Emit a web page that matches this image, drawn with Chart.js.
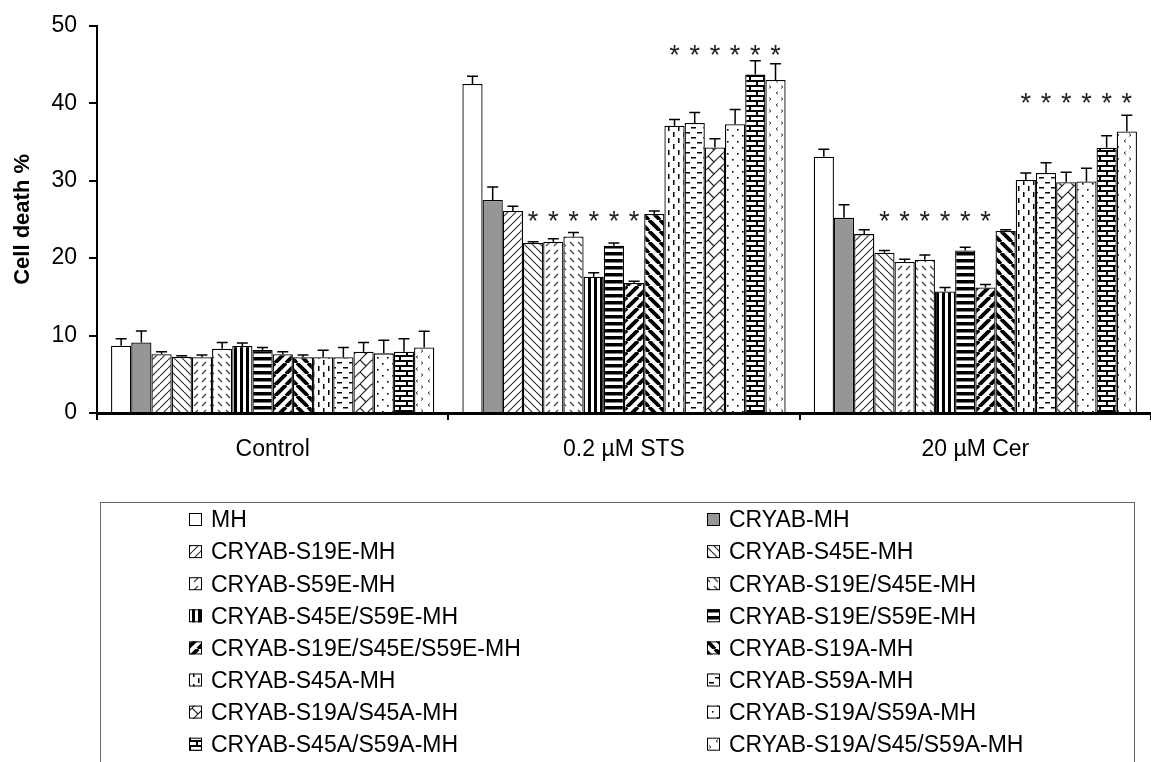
<!DOCTYPE html>
<html>
<head>
<meta charset="utf-8">
<script src="https://cdn.jsdelivr.net/npm/chart.js@4/dist/chart.umd.min.js"></script>
<style>
  body { margin: 0; background: #fff; }
  #wrap { width: 1151px; height: 762px; }
</style>
</head>
<body>
<div id="wrap"><canvas id="chart" width="1151" height="762"></canvas></div>
<script>
const fontFamily = "'Liberation Sans', Arial, sans-serif";

const categories = ['Control', '0.2 \u00b5M STS', '20 \u00b5M Cer'];

const seriesNames = [
  'MH', 'CRYAB-MH',
  'CRYAB-S19E-MH', 'CRYAB-S45E-MH',
  'CRYAB-S59E-MH', 'CRYAB-S19E/S45E-MH',
  'CRYAB-S45E/S59E-MH', 'CRYAB-S19E/S59E-MH',
  'CRYAB-S19E/S45E/S59E-MH', 'CRYAB-S19A-MH',
  'CRYAB-S45A-MH', 'CRYAB-S59A-MH',
  'CRYAB-S19A/S45A-MH', 'CRYAB-S19A/S59A-MH',
  'CRYAB-S45A/S59A-MH', 'CRYAB-S19A/S45/S59A-MH'
];

// mean cell death % per series, one array per treatment
const controlVals = [8.7, 9.1, 7.6, 7.25, 7.2, 8.3, 8.65, 8.15, 7.6, 7.2, 7.2, 7.2, 7.9, 7.7, 7.9, 8.45];
const stsVals     = [42.5, 27.5, 26.1, 21.95, 22.1, 22.8, 17.6, 21.6, 16.8, 25.7, 37.1, 37.45, 34.3, 37.3, 43.7, 43.0];
const cerVals     = [33.1, 25.2, 23.1, 20.7, 19.5, 19.8, 15.7, 21.0, 16.2, 23.5, 30.1, 31.0, 29.8, 29.9, 34.25, 36.35];

// upper error (SD)
const controlErr = [0.9, 1.5, 0.3, 0.15, 0.3, 0.8, 0.4, 0.3, 0.3, 0.3, 0.9, 1.25, 1.2, 1.7, 1.7, 2.1];
const stsErr     = [1.0, 1.7, 0.6, 0.15, 0.4, 0.5, 0.5, 0.35, 0.2, 0.4, 0.8, 1.35, 1.1, 1.9, 1.8, 2.1];
const cerErr     = [0.95, 1.7, 0.55, 0.3, 0.35, 0.6, 0.5, 0.4, 0.4, 0.15, 0.9, 1.3, 1.3, 1.7, 1.55, 2.1];

const yTicks = [0, 10, 20, 30, 40, 50];

// significance marks: category index, series indices, height (data units)
const starGroups = [
  { cat: 1, series: [3, 4, 5, 6, 7, 8], level: 25.6 },
  { cat: 1, series: [10, 11, 12, 13, 14, 15], level: 47.1 },
  { cat: 2, series: [3, 4, 5, 6, 7, 8], level: 25.6 },
  { cat: 2, series: [10, 11, 12, 13, 14, 15], level: 40.9 }
];

// ---------- fill patterns ----------
function tile(w, h, draw) {
  const c = document.createElement('canvas');
  c.width = w; c.height = h;
  const g = c.getContext('2d');
  g.fillStyle = '#fff';
  g.fillRect(0, 0, w, h);
  g.strokeStyle = '#000';
  g.fillStyle = '#000';
  draw(g, w, h);
  return c;
}
function diagUp(g, s, lw, col) {
  g.strokeStyle = col; g.lineWidth = lw;
  for (let k = -1; k <= 1; k++) {
    g.beginPath(); g.moveTo(k * s, s); g.lineTo(k * s + s, 0); g.stroke();
  }
}
function diagDown(g, s, lw, col) {
  g.strokeStyle = col; g.lineWidth = lw;
  for (let k = -1; k <= 1; k++) {
    g.beginPath(); g.moveTo(k * s, 0); g.lineTo(k * s + s, s); g.stroke();
  }
}
function seg(g, pts, lw, col) {
  g.strokeStyle = col; g.lineWidth = lw;
  g.beginPath(); g.moveTo(pts[0], pts[1]);
  for (let i = 2; i < pts.length; i += 2) g.lineTo(pts[i], pts[i + 1]);
  g.stroke();
}

const tiles = [
  tile(4, 4, (g) => {}),
  tile(4, 4, (g) => { g.fillStyle = '#969696'; g.fillRect(0, 0, 4, 4); }),
  tile(8, 8, (g) => diagUp(g, 8, 1.2, '#333')),
  tile(8, 8, (g) => diagDown(g, 8, 1.2, '#333')),
  tile(8, 8, (g) => seg(g, [2, 6, 6, 2], 1.2, '#444')),
  tile(8, 8, (g) => seg(g, [2, 2, 6, 6], 1.2, '#444')),
  tile(6, 6, (g) => g.fillRect(0, 0, 3, 6)),
  tile(6, 7, (g) => g.fillRect(0, 0, 6, 3.5)),
  tile(11, 11, (g) => diagUp(g, 11, 3.8, '#000')),
  tile(11, 11, (g) => diagDown(g, 11, 3.8, '#000')),
  tile(10, 12, (g) => { g.fillRect(3, 0, 1.5, 5); g.fillRect(8, 6, 1.5, 5); }),
  tile(12, 10, (g) => { g.fillRect(1, 2, 5, 1.5); g.fillRect(7, 7, 5, 1.5); }),
  tile(12, 12, (g) => { diagUp(g, 12, 1.2, '#222'); seg(g, [0, 0, 6, 6], 1.2, '#222'); }),
  tile(10, 12, (g) => { g.fillRect(2, 3, 1.6, 1.6); g.fillRect(7, 9, 1.6, 1.6); }),
  tile(14, 10, (g) => {
    g.fillRect(0, 0, 14, 2); g.fillRect(0, 5, 14, 2);
    g.fillRect(0, 0, 2, 5); g.fillRect(7, 5, 2, 5);
  }),
  tile(12, 12, (g) => {
    seg(g, [1, 1.5, 3, 3, 1, 4.5], 1, '#444');
    seg(g, [10, 7.5, 8, 9, 10, 10.5], 1, '#444');
  })
];

const ctx = document.getElementById('chart').getContext('2d');
const patterns = tiles.map(t => ctx.createPattern(t, 'repeat'));

const valueSets = [controlVals, stsVals, cerVals];
const errSets = [controlErr, stsErr, cerErr];

const datasets = seriesNames.map((name, i) => ({
  label: name,
  data: valueSets.map(v => v[i]),
  errors: errSets.map(e => e[i]),
  backgroundColor: patterns[i],
  borderColor: '#000',
  borderWidth: 1.3,
  categoryPercentage: 0.92,
  barPercentage: 1.0
}));

const errorBars = {
  id: 'errorBars',
  afterDatasetsDraw(chart) {
    const c = chart.ctx, y = chart.scales.y;
    c.save();
    c.strokeStyle = '#000';
    c.lineWidth = 1.5;
    chart.data.datasets.forEach((ds, i) => {
      chart.getDatasetMeta(i).data.forEach((bar, j) => {
        const top = y.getPixelForValue(ds.data[j] + ds.errors[j]);
        c.beginPath();
        c.moveTo(bar.x, bar.y);
        c.lineTo(bar.x, top);
        c.moveTo(bar.x - 5.5, top);
        c.lineTo(bar.x + 5.5, top);
        c.stroke();
      });
    });
    c.restore();
  }
};

const stars = {
  id: 'stars',
  afterDatasetsDraw(chart) {
    const c = chart.ctx, y = chart.scales.y;
    const size = 27;
    c.save();
    c.fillStyle = '#222';
    c.font = size + 'px ' + fontFamily;
    c.textAlign = 'center';
    c.textBaseline = 'alphabetic';
    starGroups.forEach(sg => {
      const py = y.getPixelForValue(sg.level);
      sg.series.forEach(si => {
        const bar = chart.getDatasetMeta(si).data[sg.cat];
        c.fillText('*', bar.x, py + size * 0.57);
      });
    });
    c.restore();
  }
};

const boxLegend = {
  id: 'boxLegend',
  afterDraw(chart) {
    const c = chart.ctx;
    c.save();
    c.strokeStyle = '#666';
    c.lineWidth = 1;
    c.strokeRect(100.5, 502.5, 1034, 300);
    c.font = '23px ' + fontFamily;
    c.textBaseline = 'middle';
    c.fillStyle = '#000';
    chart.data.datasets.forEach((ds, i) => {
      const col = i % 2, row = Math.floor(i / 2);
      const sx = col === 0 ? 189 : 707;
      const cy = 520 + row * 32.1;
      c.fillStyle = ds.backgroundColor;
      c.fillRect(sx, cy - 7, 13, 13);
      c.strokeStyle = '#000';
      c.lineWidth = 1;
      c.strokeRect(sx + 0.5, cy - 6.5, 12, 12);
      c.fillStyle = '#000';
      c.fillText(ds.label, sx + 22, cy + 1);
    });
    c.restore();
  }
};

Chart.defaults.font.family = fontFamily;
Chart.defaults.color = '#000';

new Chart(ctx, {
  type: 'bar',
  data: { labels: categories, datasets },
  plugins: [errorBars, stars, boxLegend],
  options: {
    responsive: false,
    animation: false,
    devicePixelRatio: 1,
    layout: { padding: { top: 20, right: 0, bottom: 0, left: 0 } },
    plugins: { legend: { display: false }, tooltip: { enabled: false } },
    scales: {
      x: {
        afterFit(scale) { scale.height = 349; },
        border: { color: '#000', width: 3 },
        grid: { drawOnChartArea: false, drawTicks: true, tickLength: 7, color: '#000', lineWidth: 2, offset: true },
        ticks: { font: { size: 23 }, padding: 16, color: '#000' }
      },
      y: {
        min: 0,
        max: 50,
        afterFit(scale) { scale.width = 97; },
        afterBuildTicks(scale) { scale.ticks = yTicks.map(v => ({ value: v })); },
        border: { color: '#000', width: 2 },
        grid: { drawOnChartArea: false, drawTicks: true, tickLength: 8, color: '#000', lineWidth: 2 },
        ticks: { font: { size: 23 }, padding: 12, color: '#000' },
        title: {
          display: true,
          text: 'Cell death %',
          font: { size: 22, weight: 'bold' },
          color: '#000',
          padding: { top: 10, bottom: 0 }
        }
      }
    }
  }
});
</script>
</body>
</html>
